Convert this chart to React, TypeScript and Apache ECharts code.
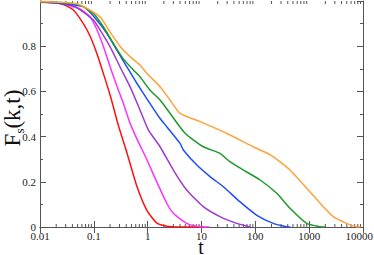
import React, { useEffect, useRef } from "react";
import * as echarts from "echarts";

const xTickLabels = ["0.01", "0.1", "1", "10", "100", "1000", "10000"];
const yTickLabels = ["0", "0.2", "0.4", "0.6", "0.8"];

const redT = [0.01, 0.0235, 0.0416, 0.0638, 0.085, 0.113, 0.15, 0.2, 0.285, 0.41, 0.63, 0.96, 1.47, 2.26, 4, 11];
const redF = [0.995, 0.99, 0.96, 0.9, 0.845, 0.77, 0.68, 0.585, 0.45, 0.33, 0.18, 0.075, 0.018, 0.003, 0, 0];

const magT = [0.01, 0.0235, 0.055, 0.085, 0.113, 0.15, 0.2, 0.267, 0.35, 0.47, 0.63, 0.96, 1.47, 2.26, 3.0, 5.3, 9.4, 14];
const magF = [0.997, 0.99, 0.965, 0.93, 0.875, 0.8, 0.71, 0.625, 0.55, 0.46, 0.39, 0.3, 0.2, 0.105, 0.061, 0.016, 0.001, 0];

const purT = [0.01, 0.042, 0.098, 0.13, 0.2, 0.306, 0.47, 0.72, 1.03, 1.7, 3.0, 5.3, 10.8, 22, 45, 80];
const purF = [0.997, 0.978, 0.916, 0.872, 0.798, 0.709, 0.621, 0.518, 0.43, 0.355, 0.252, 0.164, 0.09, 0.046, 0.016, 0];

const bluT = [0.01, 0.064, 0.113, 0.174, 0.267, 0.41, 0.63, 1.1, 1.7, 2.26, 4.0, 4.6, 8.2, 14.4, 25.5, 51.5, 105, 215, 380, 450];
const bluF = [0.998, 0.975, 0.916, 0.857, 0.783, 0.709, 0.636, 0.547, 0.48, 0.444, 0.37, 0.341, 0.274, 0.223, 0.178, 0.112, 0.053, 0.016, 0.001, 0];

const grnT = [0.01, 0.05, 0.098, 0.15, 0.23, 0.35, 0.54, 0.72, 1.1, 1.7, 2.6, 4.96, 10.8, 22, 33.6, 60, 123, 250, 440, 900, 1600, 2000];
const grnF = [0.998, 0.985, 0.945, 0.886, 0.813, 0.745, 0.695, 0.665, 0.606, 0.562, 0.503, 0.415, 0.355, 0.326, 0.289, 0.252, 0.208, 0.149, 0.083, 0.016, 0.001, 0];

const orgT = [0.01, 0.05, 0.13, 0.2, 0.306, 0.47, 0.72, 0.96, 1.7, 2.6, 4.0, 9.4, 29, 91, 190, 440, 1600, 2800, 4950, 7500, 9000];
const orgF = [0.998, 0.987, 0.93, 0.862, 0.8, 0.754, 0.717, 0.68, 0.621, 0.562, 0.503, 0.466, 0.415, 0.355, 0.319, 0.252, 0.105, 0.046, 0.016, 0.001, 0];

const seriesDefs = [
  { name: "red", t: redT, f: redF, color: "#ff1010" },
  { name: "magenta", t: magT, f: magF, color: "#ff30ff" },
  { name: "purple", t: purT, f: purF, color: "#9c3ad2" },
  { name: "blue", t: bluT, f: bluF, color: "#1f4cff" },
  { name: "green", t: grnT, f: grnF, color: "#1c9a2a" },
  { name: "orange", t: orgT, f: orgF, color: "#ffa23c" },
];

const minorX: number[] = [];
for (let d = -2; d < 4; d++) {
  for (let m = 2; m <= 9; m++) minorX.push(m * Math.pow(10, d));
}

const SERIF = "'Liberation Serif', 'DejaVu Serif', serif";

export default function App() {
  const ref = useRef<HTMLDivElement>(null);
  useEffect(() => {
    if (!ref.current) return;
    const chart = echarts.init(ref.current, undefined, { renderer: "svg" });
    const axisLine = { show: true, lineStyle: { color: "#555", width: 1 } };
    const tickColor = "#555";
    const lastLabel = xTickLabels[xTickLabels.length - 1];
    const option: any = {
      animation: false,
      grid: { left: 40, right: 11, top: 1, bottom: 28, outerBoundsMode: "none", containLabel: false },
      graphic: [
        {
          type: "text",
          x: 12,
          y: 118,
          rotation: Math.PI / 2,
          style: {
            text: "{f|F}{s|s}{f|(k,t)}",
            align: "center",
            verticalAlign: "middle",
            rich: {
              f: { fontFamily: SERIF, fontSize: 23, fill: "#111", color: "#111" },
              s: { fontFamily: SERIF, fontSize: 13, fill: "#111", color: "#111", padding: [14, 0, 0, 0] },
            },
          },
        },
        {
          type: "text",
          x: 201,
          y: 247,
          style: {
            text: "t",
            align: "center",
            verticalAlign: "middle",
            fontFamily: SERIF,
            fontSize: 20,
            lineHeight: 15,
            fill: "#111",
          },
        },
        {
          type: "text",
          x: 373,
          y: 236,
          style: {
            text: lastLabel,
            align: "right",
            verticalAlign: "middle",
            fontFamily: SERIF,
            fontSize: 11,
            fill: "#222",
          },
        },
      ],
      xAxis: [
        {
          type: "log",
          min: 0.01,
          max: 10000,
          logBase: 10,
          axisLine,
          axisTick: { show: true, inside: true, length: 6, lineStyle: { color: tickColor } },
          axisLabel: {
            fontFamily: SERIF,
            fontSize: 11,
            color: "#222",
            margin: 3,
            formatter: (v: number) => {
              const idx = Math.round(Math.log10(v)) + 2;
              if (idx >= xTickLabels.length - 1) return "";
              return xTickLabels[idx] ?? "";
            },
          },
          splitLine: { show: false },
        },
        {
          type: "log",
          min: 0.01,
          max: 10000,
          position: "top",
          axisLine,
          axisTick: { show: true, inside: true, length: 6, lineStyle: { color: tickColor } },
          axisLabel: { show: false },
          splitLine: { show: false },
        },
      ],
      yAxis: [
        {
          type: "value",
          min: 0,
          max: 1,
          interval: 0.2,
          axisLine,
          axisTick: { show: true, inside: true, length: 6, lineStyle: { color: tickColor } },
          minorTick: { show: true, splitNumber: 2, length: 3, lineStyle: { color: tickColor } },
          axisLabel: {
            fontFamily: SERIF,
            fontSize: 11,
            color: "#222",
            margin: 4,
            formatter: (v: number) => {
              const idx = Math.round(v / 0.2);
              return yTickLabels[idx] ?? "";
            },
          },
          splitLine: { show: false },
        },
        {
          type: "value",
          min: 0,
          max: 1,
          interval: 0.2,
          position: "right",
          axisLine,
          axisTick: { show: true, inside: true, length: 6, lineStyle: { color: tickColor } },
          minorTick: { show: true, splitNumber: 2, length: 3, lineStyle: { color: tickColor } },
          axisLabel: { show: false },
          splitLine: { show: false },
        },
      ],
      series: [
        ...seriesDefs.map((s) => ({
          type: "line",
          name: s.name,
          xAxisIndex: 0,
          yAxisIndex: 0,
          data: s.t.map((t, i) => [t, s.f[i]]),
          showSymbol: false,
          symbol: "none",
          smooth: 0.2,
          lineStyle: { color: s.color, width: 1.5 },
          itemStyle: { color: s.color },
          z: 3,
        })),
        {
          type: "custom",
          xAxisIndex: 0,
          yAxisIndex: 0,
          data: minorX.map((v) => [v, 0]),
          clip: false,
          silent: true,
          z: 1,
          renderItem: (params: any, api: any) => {
            const x = api.coord([api.value(0), 0])[0];
            const yb = api.coord([api.value(0), 0])[1];
            const yt = api.coord([api.value(0), 1])[1];
            const style = { stroke: tickColor, lineWidth: 1 };
            return {
              type: "group",
              children: [
                { type: "line", shape: { x1: x, y1: yb, x2: x, y2: yb - 3 }, style },
                { type: "line", shape: { x1: x, y1: yt, x2: x, y2: yt + 3 }, style },
              ],
            };
          },
        },
      ],
    };
    chart.setOption(option);
    return () => chart.dispose();
  }, []);
  return (
    <div
      ref={ref}
      style={{ position: "fixed", left: 0, top: 0, width: 374, height: 255, background: "#fff" }}
    />
  );
}
